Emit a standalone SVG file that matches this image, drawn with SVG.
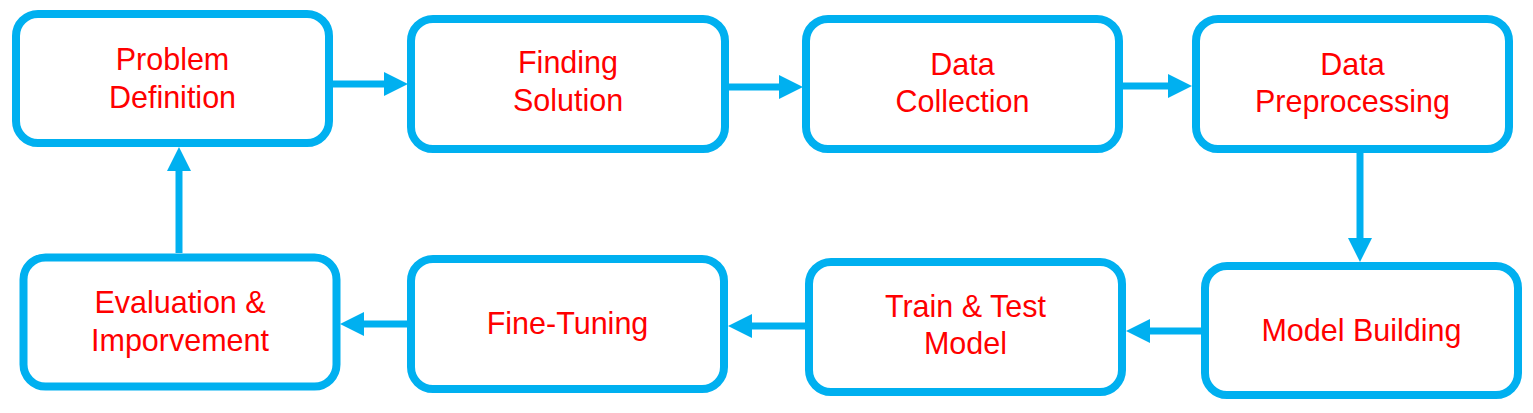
<svg xmlns="http://www.w3.org/2000/svg" width="1533" height="413" viewBox="0 0 1533 413">
<style>
.box{fill:#FFFFFF;stroke:#00B0F0;stroke-width:8}
.lbl{font-family:"Liberation Sans",Arial,sans-serif;font-size:30.5px;fill:#FF0000;text-anchor:middle}
.conn{stroke:#00B0F0;stroke-width:7;fill:none;marker-end:url(#ah)}
</style>
<defs>
<marker id="ah" markerUnits="userSpaceOnUse" markerWidth="24" markerHeight="24" refX="0" refY="12" orient="auto" viewBox="0 0 24 24">
<path d="M0,0 L24,12 L0,24 Z" fill="#00B0F0"/>
</marker>
</defs>
<rect width="1533" height="413" fill="#FFFFFF"/>
<g id="connectors">
<line class="conn" x1="333" y1="84" x2="384" y2="84"/>
<line class="conn" x1="729" y1="87" x2="779" y2="87"/>
<line class="conn" x1="1123" y1="86" x2="1168" y2="86"/>
<line class="conn" x1="1360" y1="153" x2="1360" y2="238"/>
<line class="conn" x1="1201" y1="331" x2="1150" y2="331"/>
<line class="conn" x1="805" y1="326" x2="752" y2="326"/>
<line class="conn" x1="407" y1="324" x2="364" y2="324"/>
<line class="conn" x1="179" y1="253" x2="179" y2="171"/>
</g>
<g id="problem-definition">
<rect class="box" x="16" y="14" width="313" height="129" rx="22"/>
<text class="lbl" x="172.5" y="70">Problem</text>
<text class="lbl" x="172.5" y="108">Definition</text>
</g>
<g id="finding-solution">
<rect class="box" x="411" y="19" width="314" height="130" rx="22"/>
<text class="lbl" x="568" y="73">Finding</text>
<text class="lbl" x="568" y="111">Solution</text>
</g>
<g id="data-collection">
<rect class="box" x="806" y="19" width="313" height="130" rx="22"/>
<text class="lbl" x="962.5" y="75">Data</text>
<text class="lbl" x="962.5" y="112">Collection</text>
</g>
<g id="data-preprocessing">
<rect class="box" x="1196" y="19" width="313" height="130" rx="22"/>
<text class="lbl" x="1352.5" y="75">Data</text>
<text class="lbl" x="1352.5" y="112">Preprocessing</text>
</g>
<g id="model-building">
<rect class="box" x="1205" y="266" width="313" height="129" rx="22"/>
<text class="lbl" x="1361.5" y="341">Model Building</text>
</g>
<g id="train-test-model">
<rect class="box" x="809" y="262" width="313" height="130" rx="22"/>
<text class="lbl" x="965.5" y="317">Train &amp; Test</text>
<text class="lbl" x="965.5" y="354">Model</text>
</g>
<g id="fine-tuning">
<rect class="box" x="411" y="259" width="313" height="130" rx="22"/>
<text class="lbl" x="567.5" y="334">Fine-Tuning</text>
</g>
<g id="evaluation-improvement">
<rect class="box" x="23.5" y="257.5" width="313" height="129" rx="22"/>
<text class="lbl" x="180" y="313">Evaluation &amp;</text>
<text class="lbl" x="180" y="351">Imporvement</text>
</g>
</svg>
